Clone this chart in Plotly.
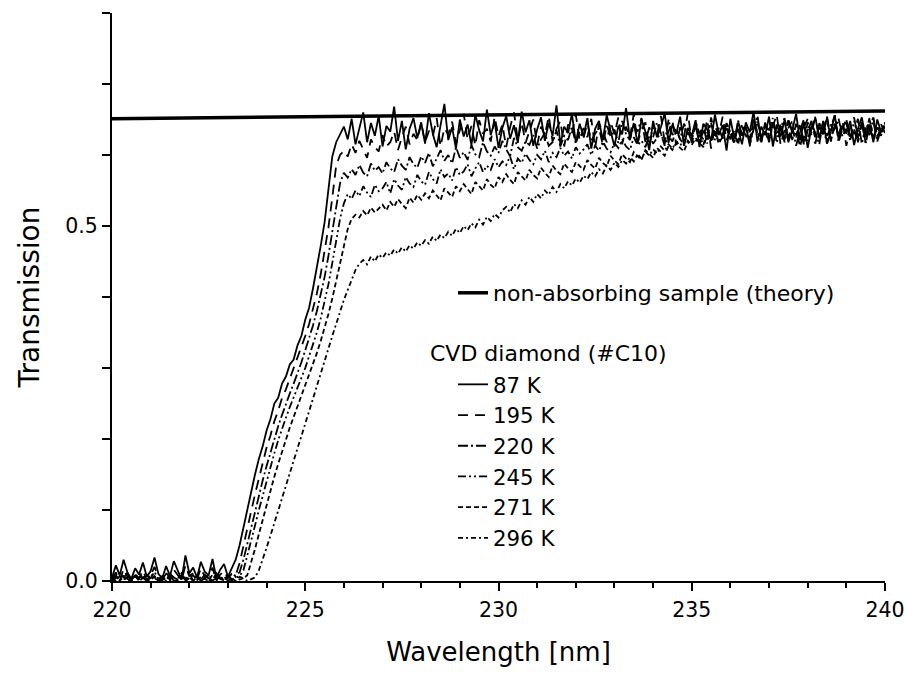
import plotly.graph_objects as go

# ---------------- data ----------------
# Spectra are sampled every 0.1 nm from 220.0 nm to 240.0 nm (201 samples);
# transmission values are stored in thousandths.
WL_START = 220.0
WL_STEP = 0.1

T_87K = [
    5, 22, 8, 30, 12, 3, 18, 9, 26, 6,
    14, 33, 10, 4, 21, 7, 28, 15, 2, 36,
    11, 19, 5, 27, 13, 8, 31, 4, 16, 24,
    6, 18, 30,
    50, 75, 100, 128, 150, 172, 190, 212, 228, 250,
    258, 278, 288, 305, 312, 332, 345, 368, 385, 412,
    440, 472, 505, 552, 598, 618, 628,
    640, 622, 651, 615, 638, 660, 618, 645, 627, 655,
    612, 641, 633, 668, 620, 648, 608, 637, 652, 624,
    646, 616, 659, 630, 611, 644, 672, 621, 639, 609,
    650, 626, 643, 614, 657, 635, 619, 664, 628, 647,
    610, 638, 655, 623, 642, 617, 661, 632, 649, 613,
    636, 653, 620, 645, 627, 670, 615, 640, 631, 658,
    618, 644, 626, 652, 609, 637, 648, 621, 656, 634,
    612, 641, 629, 666, 622, 645, 616, 650, 633, 607,
    648, 625, 639, 659, 617, 643, 630, 654, 613, 638,
    627, 649, 611, 644, 636, 620, 657, 629, 642, 606,
    651, 623, 637, 615, 646, 632, 661, 619, 640, 628,
    654, 612, 643, 626, 649, 618, 635, 658, 621, 645,
    610, 639, 652, 624, 647, 616, 633, 656, 622, 641,
    630, 648, 614, 637, 653, 625, 643, 618, 650, 632, 640,
]

T_195K = [
    3, 12, 0, 17, 6, 2, 10, 4, 15, 1,
    8, 20, 5, 0, 13, 3, 16, 9, 1, 22,
    7, 11, 2, 18, 6, 4, 19, 0, 9, 14,
    4, 10, 8,
    25, 48, 72, 98, 122, 145, 165, 188, 205, 225,
    240, 258, 270, 285, 298, 312, 328, 345, 362, 382,
    405, 432, 462, 498, 540, 585, 600, 606,
    598, 615, 603, 620, 608, 596, 622, 611, 605,
    628, 612, 618, 633, 607, 625, 640, 615, 630, 621,
    645, 618, 634, 626, 652, 612, 638, 629, 647, 616,
    635, 658, 622, 641, 613, 649, 630, 637, 619, 654,
    626, 643, 611, 639, 660, 621, 646, 617, 634, 650,
    614, 640, 628, 655, 619, 637, 648, 612, 643, 631,
    657, 620, 638, 625, 651, 610, 644, 633, 618, 647,
    629, 653, 615, 640, 624, 658, 617, 636, 646, 611,
    642, 627, 655, 619, 633, 648, 614, 639, 625, 660,
    617, 645, 631, 622, 650, 609, 641, 628, 654, 620,
    637, 615, 647, 626, 643, 612, 652, 630, 618, 646,
    623, 640, 657, 614, 635, 649, 621, 644, 610, 638,
    651, 627, 616, 645, 632, 655, 619, 641, 628, 648,
    613, 639, 653, 624, 646, 617, 636, 650, 622, 643, 631,
]

T_220K = [
    2, 8, 1, 5, 11, 0, 6, 3, 9, 1,
    4, 13, 2, 7, 0, 10, 5, 1, 8, 3,
    12, 0, 6, 2, 9, 4, 1, 11, 3, 7,
    0, 5, 9,
    12, 30, 52, 75, 98, 120, 142, 162, 182, 200,
    218, 234, 250, 264, 278, 292, 308, 325, 342, 360,
    380, 402, 428, 458, 492, 530, 560, 575,
    568, 580, 572, 586, 575, 570, 588, 578, 583,
    574, 590, 581, 576, 594, 585, 579, 597, 587, 582,
    598, 589, 603, 584, 595, 607, 592, 600, 588, 611,
    596, 604, 593, 614, 601, 597, 618, 605, 599, 612,
    603, 620, 608, 598, 624, 611, 606, 619, 614, 628,
    609, 622, 631, 613, 618, 635, 612, 627, 621, 640,
    616, 633, 624, 645, 619, 630, 638, 614, 643, 626,
    636, 617, 648, 629, 621, 641, 633, 652, 618, 639,
    625, 646, 631, 615, 650, 628, 637, 622, 644, 633,
    619, 647, 630, 641, 616, 653, 627, 638, 623, 645,
    632, 618, 649, 626, 640, 614, 636, 655, 621, 643,
    629, 646, 617, 638, 652, 624, 641, 613, 634, 650,
    620, 644, 631, 615, 648, 627, 639, 656, 618, 637,
    645, 622, 633, 651, 616, 640, 628, 647, 619, 636, 642,
]

T_245K = [
    1, 6, 0, 9, 3, 1, 7, 2, 5, 0,
    10, 4, 1, 6, 2, 8, 0, 3, 11, 1,
    5, 2, 7, 0, 4, 9, 1, 3, 6, 0,
    8, 2, 4, 7,
    15, 35, 56, 78, 100, 121, 142, 162, 180, 198,
    215, 230, 245, 258, 272, 286, 300, 316, 332, 350,
    370, 392, 418, 448, 480, 510, 532, 545,
    538, 550, 542, 556, 547, 541, 558, 549,
    553, 562, 546, 566, 557, 551, 569, 560, 555, 572,
    563, 558, 576, 566, 560, 580, 569, 574, 564, 583,
    572, 577, 587, 570, 581, 590, 576, 585, 579, 594,
    583, 591, 586, 598, 580, 595, 589, 602, 593, 587,
    600, 594, 606, 590, 603, 597, 610, 599, 605, 595,
    611, 602, 608, 615, 600, 613, 606, 619, 609, 604,
    617, 610, 622, 612, 607, 625, 614, 620, 611, 628,
    616, 624, 630, 613, 627, 619, 635, 622, 615, 632,
    626, 640, 618, 633, 629, 645, 621, 637, 624, 642,
    630, 617, 646, 627, 639, 623, 650, 632, 619, 641,
    635, 652, 625, 644, 618, 638, 648, 628, 642, 620,
    646, 631, 654, 622, 639, 616, 643, 634, 651, 626,
    637, 621, 648, 630, 644, 617, 640, 653, 627, 635, 645,
]

T_271K = [
    3, 0, 7, 2, 5, 1, 8, 0, 4, 9,
    2, 6, 0, 3, 10, 1, 5, 2, 7, 0,
    4, 8, 1, 6, 3, 0, 9, 2, 5, 1,
    7, 3, 0, 6, 4,
    8, 25, 45, 66, 87, 108, 128, 147, 165, 183,
    200, 216, 231, 246, 260, 275, 290, 305, 321, 338,
    356, 376, 398, 422, 448, 474, 496, 510, 516,
    512, 521, 515, 526, 519, 524,
    530, 522, 534, 527, 538, 531, 525, 540, 533, 544,
    537, 546, 539, 550, 543, 536, 553, 547, 541, 556,
    549, 559, 552, 545, 562, 556, 550, 566, 558, 553,
    569, 562, 573, 565, 559, 576, 570, 564, 579, 572,
    567, 582, 575, 569, 585, 578, 573, 588, 581, 576,
    590, 584, 579, 593, 586, 581, 596, 589, 584, 599,
    592, 587, 601, 595, 590, 604, 598, 593, 607, 601,
    596, 610, 604, 599, 613, 607, 617, 610, 605, 620,
    614, 624, 617, 611, 628, 620, 633, 616, 626, 638,
    622, 631, 615, 640, 627, 619, 636, 646, 624, 633,
    618, 643, 629, 637, 621, 649, 632, 626, 641, 616,
    635, 647, 623, 639, 630, 652, 620, 644, 628, 637,
    648, 625, 634, 619, 642, 631, 650, 622, 639, 627, 645,
]

T_296K = [
    0, 4, 1, 6, 0, 3, 8, 1, 5, 0,
    2, 7, 0, 4, 1, 9, 3, 0, 5, 2,
    6, 0, 8, 1, 4, 2, 0, 7, 3, 1,
    5, 0, 6, 2, 4, 0, 3,
    5, 15, 30, 47, 64, 82, 100, 118, 135, 152,
    170, 187, 204, 222, 240, 257, 274, 292, 310, 327,
    345, 362, 380, 396, 410, 425, 438, 447,
    452, 446, 457, 450, 460,
    455, 463, 458, 467, 461, 470, 464, 473, 468, 477,
    472, 480, 475, 485, 479, 488, 483, 492, 486, 496,
    490, 500, 494, 504, 498, 509, 502, 513, 507, 517,
    512, 522, 527, 519, 531, 525, 536, 530, 541, 534,
    545, 539, 550, 544, 555, 548, 559, 553, 563, 557,
    567, 561, 571, 566, 576, 570, 580, 574, 585, 579,
    589, 583, 593, 588, 597, 591, 601, 595, 605, 599,
    608, 602, 612, 606, 615, 609, 619, 613, 622, 616,
    625, 619, 628, 614, 632, 622, 636, 618, 630, 640,
    624, 634, 617, 643, 628, 621, 638, 647, 626, 635,
    619, 644, 631, 639, 623, 650, 633, 627, 642, 615,
    636, 648, 624, 641, 629, 654, 621, 645, 630, 638,
    650, 626, 637, 618, 644, 632, 652, 623, 640, 628, 646,
]

SERIES_NAMES = ["87 K", "195 K", "220 K", "245 K", "271 K", "296 K"]
SERIES_VALUES = [T_87K, T_195K, T_220K, T_245K, T_271K, T_296K]

THEORY_WL = [220.0, 230.0, 240.0]
THEORY_T = [0.651, 0.657, 0.662]

X_TICKS = [220, 225, 230, 235, 240]
Y_TICKS = [0.0, 0.5]
Y_TICK_TEXT = ["0.0", "0.5"]

# ---------------- styles ----------------
DASHES = ["solid", "10px,7px", "10px,3px,2px,3px", "8px,3px,2px,3px,2px,3px",
          "5px,3px", "5px,3px,2px,3px"]
FONT = "DejaVu Sans"

fig = go.Figure()

fig.add_trace(go.Scatter(
    x=THEORY_WL, y=THEORY_T, mode="lines",
    name="non-absorbing sample (theory)",
    line=dict(color="black", width=3.5),
    legend="legend", showlegend=True,
))

for name, vals, dash in zip(SERIES_NAMES, SERIES_VALUES, DASHES):
    assert len(vals) == 201, (name, len(vals))
    xs = [round(WL_START + WL_STEP * i, 2) for i in range(len(vals))]
    ys = [v / 1000.0 for v in vals]
    fig.add_trace(go.Scatter(
        x=xs, y=ys, mode="lines", name=name,
        line=dict(color="black", width=1.8, dash=dash),
        legend="legend2", showlegend=True,
    ))

L, R, T, B = 112, 21, 13, 93
W, H = 906, 674
pw, ph = W - L - R, H - T - B

def px_x(px):
    return (px - L) / pw

def px_y(py):
    return (H - B - py) / ph

fig.update_layout(
    width=W, height=H,
    showlegend=True,
    margin=dict(l=L, r=R, t=T, b=B, pad=0, autoexpand=False),
    paper_bgcolor="white", plot_bgcolor="white",
    font=dict(family=FONT, color="black", size=21),
    xaxis=dict(
        range=[220, 240], tickvals=X_TICKS, automargin=False,
        showline=True, linecolor="black", linewidth=2,
        ticks="outside", ticklen=8, tickwidth=2, tickcolor="black",
        minor=dict(dtick=1, ticks="outside", ticklen=5, tickwidth=2, tickcolor="black"),
        showgrid=False, zeroline=False,
        ticklabelstandoff=1, ticklabeloverflow="allow",
        tickfont=dict(family=FONT, size=20.5, color="black"),
        title=dict(text="Wavelength [nm]", font=dict(family=FONT, size=26, color="black"),
                   standoff=22),
    ),
    yaxis=dict(
        range=[0, 0.8], tickvals=Y_TICKS, ticktext=Y_TICK_TEXT, automargin=False,
        showline=True, linecolor="black", linewidth=2,
        ticks="outside", ticklen=8, tickwidth=2, tickcolor="black",
        minor=dict(dtick=0.1, ticks="outside", ticklen=8, tickwidth=2, tickcolor="black"),
        showgrid=False, zeroline=False,
        tickfont=dict(family=FONT, size=20.5, color="black"),
        title=dict(text="Transmission", font=dict(family=FONT, size=28, color="black"),
                   standoff=17),
    ),
    legend=dict(
        x=px_x(453), y=px_y(293), xanchor="left", yanchor="middle",
        bgcolor="rgba(0,0,0,0)", borderwidth=0,
        font=dict(family=FONT, size=22, color="black"),
    ),
    legend2=dict(
        x=px_x(453), y=px_y(461.5), xanchor="left", yanchor="middle",
        bgcolor="rgba(0,0,0,0)", borderwidth=0,
        font=dict(family=FONT, size=21.3, color="black"),
    ),
    annotations=[dict(
        text="CVD diamond (#C10)", xref="paper", yref="paper",
        x=px_x(428), y=px_y(354), xanchor="left", yanchor="middle",
        showarrow=False, font=dict(family=FONT, size=22, color="black"),
    )],
)

# remove the browser's default 8px page margin so the figure fills the window
fig.write_html("out.html", config={"displayModeBar": False},
               post_script="document.body.style.margin='0';")
